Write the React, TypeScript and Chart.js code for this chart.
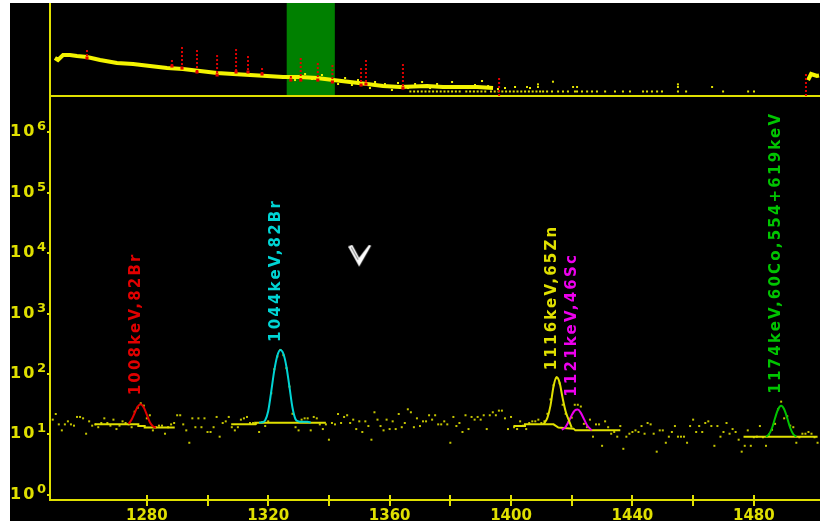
import React, { useEffect, useRef } from "react";
import { Chart, registerables } from "chart.js";

Chart.register(...registerables);

// ---------------- main (zoomed) spectrum ----------------
const xMin = 1248.1;
const xMax = 1501.8;
const yMin = 0.826;
const yMax = 3.8e6;
const xTickStep = 20;
const xLabelStep = 40;
const yDecades = [1, 10, 100, 1000, 10000, 100000, 1000000];
const yDecadeExponents = ["0", "1", "2", "3", "4", "5", "6"];

const countsFirstChannel = 1249;
const counts = [
  17.6, 21.8, 14.7, 11.7, 14.7, 16.5, 14.7, 14.0, 19.5, 19.5,
  18.5, 10.3, 16.5, 14.0, 14.7, 13.2, 15.5, 18.5, 15.5, 14.0,
  17.6, 12.3, 14.0, 16.5, 15.5, 14.7, 13.2, 23.8, 27.7, 32.8,
  30.0, 18.5, 20.8, 11.7, 13.2, 14.0, 14.0, 10.3, 13.2, 14.7,
  15.5, 20.8, 20.8, 14.7, 11.7, 7.3, 18.5, 13.2, 18.5, 13.2,
  18.5, 11.0, 11.0, 13.2, 19.5, 9.2, 15.5, 16.5, 19.5, 13.2,
  11.7, 13.2, 17.6, 18.5, 19.5, 15.5, 15.5, 15.0, 11.0, 16.0,
  13.8, 16.5, 48, 120, 195, 250, 205, 125, 62, 22,
  13.2, 11.7, 17.6, 18.5, 18.5, 11.7, 19.5, 18.5, 14.7, 12.3,
  14.7, 8.2, 15.5, 14.7, 21.8, 15.5, 19.5, 20.8, 15.5, 17.6,
  12.3, 16.5, 11.0, 16.5, 13.8, 8.2, 23.3, 17.6, 13.8, 11.7,
  17.6, 12.3, 16.5, 12.3, 21.8, 13.2, 15.5, 26.1, 23.3, 13.2,
  18.5, 13.8, 16.5, 16.5, 20.8, 17.6, 20.8, 14.7, 14.7, 16.5,
  14.7, 7.3, 19.5, 13.8, 15.5, 11.0, 20.8, 12.3, 19.5, 17.6,
  19.5, 17.6, 20.8, 12.3, 20.8, 23.3, 20.8, 24.8, 24.8, 18.5,
  12.3, 19.5, 13.2, 12.3, 16.5, 14.0, 12.3, 15.5, 16.5, 16.5,
  17.6, 15.5, 16.5, 22, 38, 65, 85, 70, 31, 22,
  16, 19, 31, 31, 29, 15, 13.2, 17.6, 9.2, 14.7,
  14.7, 6.5, 16.5, 13.2, 10.3, 11.0, 9.2, 13.8, 5.8, 9.2,
  10.3, 11.0, 11.7, 11.0, 13.8, 10.3, 15.5, 14.7, 10.3, 5.2,
  11.7, 11.7, 7.3, 9.2, 11.0, 13.8, 9.2, 9.2, 9.2, 7.3,
  13.8, 17.6, 11.0, 13.8, 11.0, 15.5, 16.5, 13.8, 6.5, 13.8,
  9.2, 11.0, 15.5, 10.3, 12.3, 11.0, 8.2, 5.2, 6.5, 11.7,
  6.5, 9.0, 9.2, 13.8, 9.0, 6.5, 10, 12, 15, 26.1,
  34.9, 18.5, 20, 14, 13.2, 7.3, 9.0, 10.3, 10.3, 11.0,
  10.3, 9.0, 7.3,
];

// background (baseline) lines under each fitted peak
const redBaseX = [1262.9, 1277.2, 1277.2, 1279.3, 1279.3, 1289.2];
const redBaseY = [14.7, 14.7, 13.8, 13.8, 13.0, 13.0];
const cyanBaseX = [1307.8, 1315.7, 1315.7, 1339.0];
const cyanBaseY = [14.7, 14.7, 15.7, 15.7];
const yellowBaseX = [1400.8, 1404.6, 1404.6, 1414.0, 1415.6, 1417.3, 1420.6, 1421.2, 1436.0];
const yellowBaseY = [13.8, 13.8, 14.7, 14.7, 13.0, 12.8, 12.5, 11.7, 11.7];
const greenBaseX = [1476.6, 1501.0];
const greenBaseY = [9.2, 9.2];

// fitted peak curves
const redFitX = [1274, 1275, 1276, 1277, 1278, 1279, 1280, 1281, 1282, 1283];
const redFitY = [14.9, 17.7, 22.7, 29.0, 31.7, 27.9, 21.3, 15.9, 13.7, 13.0];
const cyanFitX = [1317, 1318, 1319, 1320, 1321, 1322, 1323, 1324, 1325, 1326, 1327, 1328, 1329, 1330, 1331, 1332, 1333, 1334];
const cyanFitY = [15.7, 15.9, 17.2, 24.5, 51.7, 115, 201, 250, 216, 132, 61, 27.7, 17.9, 16.5, 16.2, 16.2, 16.2, 15.7];
const yellowFitX = [1410.7, 1411, 1412, 1413, 1414, 1415, 1416, 1417, 1418, 1419, 1420];
const yellowFitY = [14.7, 15.5, 19, 30, 62, 89, 72, 40, 24, 17.5, 13.0];
const magentaFitX = [1416.7, 1417, 1418, 1419, 1420, 1421, 1422, 1423, 1424, 1425, 1426, 1426.6];
const magentaFitY = [12.0, 12.2, 13.4, 16.4, 20.9, 25.0, 25.9, 22.8, 18.1, 14.4, 12.5, 11.7];
const greenFitX = [1484, 1485, 1486, 1487, 1488, 1489, 1490, 1491, 1492, 1493, 1494];
const greenFitY = [9.2, 10.1, 12.8, 18.7, 26.2, 29.9, 26.2, 18.7, 12.8, 10.1, 9.2];

const peakLabels = [
  "1008keV,82Br",
  "1044keV,82Br",
  "1116keV,65Zn",
  "1121keV,46Sc",
  "1174keV,60Co,554+619keV",
];
const peakLabelChannels = [1278, 1324.1, 1415.1, 1421.7, 1488.9];
const peakLabelAnchors = [32.8, 250, 85, 31, 34.9];

const cursorX = [1350.3];
const cursorY = [8900];

// ---------------- overview (full spectrum) ----------------
const ovMin = 0;
const ovMax = 4060;
const ovYMin = 0.5;
const ovYMax = 8e5;

const bandX = [26, 42, 69, 105, 142, 195, 264, 353, 438, 527, 617, 701, 791, 881, 965, 1055, 1144, 1229, 1318, 1408, 1492, 1582, 1672, 1756, 1846, 1988, 2072, 2252, 2336];
const bandY = [171, 126, 270, 270, 232, 199, 126, 79, 68, 50, 36.8, 31.5, 23.2, 17.1, 14.7, 12.6, 10.8, 9.2, 9.2, 7.9, 5.8, 4.3, 3.15, 2.3, 2.0, 2.3, 2.0, 2.0, 1.7];

const noiseX = [1292, 1345, 1382, 1434, 1519, 1556, 1592, 1624, 1687, 1714, 1766, 1803, 1835, 1888, 1925, 1962, 2004, 2041, 2083, 2120, 2162, 2204, 2241, 2278, 2310, 2362, 2399, 2452, 2531];
const noiseY = [5.8, 14.7, 6.8, 12.6, 3.15, 7.9, 2.7, 5.8, 1.7, 4.3, 3.15, 1.26, 3.7, 1.7, 3.15, 4.3, 1.7, 3.15, 2.3, 4.3, 2.3, 1.7, 2.7, 5.0, 2.3, 1.46, 1.7, 2.0, 1.7];

const singlesX = [1900, 1920, 1940, 1960, 1980, 2000, 2020, 2040, 2060, 2080, 2100, 2120, 2140, 2160, 2195, 2215, 2235, 2255, 2275, 2295, 2325, 2345, 2365, 2385, 2405, 2425, 2445, 2465, 2485, 2505, 2525, 2545, 2565, 2584, 2600, 2621, 2647, 2679, 2705, 2731, 2768, 2779, 2805, 2832, 2858, 2884, 2927, 2979, 3021, 3058, 3127, 3148, 3174, 3201, 3227, 3311, 3354, 3549, 3681, 3712];
const multiX = [2515, 2573, 2758, 2779, 3311, 3491, 2573, 3311, 2652];
const multiY = [2, 2, 2, 2, 2, 2, 3, 3, 4.5];
const tailX = [3997, 4013, 4029, 4044, 4055];
const tailY = [5.8, 14.7, 12.6, 10.8, 11.5];

const markerX = [195, 643, 696, 775, 881, 981, 1044, 1118, 1270, 1322, 1412, 1489, 1640, 1666, 1861, 2368, 3986];
const markerTop = [583, 126, 924, 583, 270, 680, 232, 36.8, 10.8, 171, 79, 58, 36.8, 126, 68, 7.9, 14.7];
const markerBottom = [171, 50, 36.8, 19.9, 12.6, 19.9, 19.9, 14.7, 5.8, 5.8, 5.8, 4.3, 2.7, 3.15, 1.7, 0.5, 0.5];

// ---------------- styles ----------------
const AXIS = "#e0e000";
const DOT = "#c4c400";
const BAND = "#f4f400";
const RED = "#e00000";
const CYAN = "#00d4d4";
const MAGENTA = "#ee00ee";
const GREEN = "#00c400";
const peakColors = [RED, CYAN, AXIS, MAGENTA, GREEN];

const pts = (xs: number[], ys: number[]) => xs.map((x, i) => ({ x, y: ys[i] }));

function makeCursor(): HTMLCanvasElement {
  const c = document.createElement("canvas");
  c.width = 24;
  c.height = 23;
  const g = c.getContext("2d")!;
  g.fillStyle = "#ffffff";
  g.beginPath();
  g.moveTo(0, 2);
  g.lineTo(4, 0);
  g.lineTo(11, 13);
  g.lineTo(21, 0);
  g.lineTo(23, 1);
  g.lineTo(11, 22);
  g.closePath();
  g.fill();
  g.strokeStyle = "#8a8a8a";
  g.lineWidth = 1.2;
  g.beginPath();
  g.moveTo(3, 2.5);
  g.lineTo(10, 15);
  g.stroke();
  return c;
}

const zeroPad = (s: any) => {
  s.paddingLeft = 0;
  s.paddingRight = 0;
  s.paddingTop = 0;
  s.paddingBottom = 0;
};

export default function App() {
  const topRef = useRef<HTMLCanvasElement | null>(null);
  const mainRef = useRef<HTMLCanvasElement | null>(null);

  useEffect(() => {
    document.body.style.margin = "0";
    document.body.style.background = "#ffffff";

    const mainDecor = {
      id: "mainDecor",
      afterDraw(chart: any) {
        const { ctx, chartArea } = chart;
        const xs = chart.scales.x;
        const ys = chart.scales.y;
        ctx.save();
        // crossing x tick marks
        ctx.strokeStyle = AXIS;
        ctx.lineWidth = 2;
        xs.ticks.forEach((t: any) => {
          const px = Math.round(xs.getPixelForValue(t.value));
          ctx.beginPath();
          ctx.moveTo(px, chartArea.bottom - 5);
          ctx.lineTo(px, chartArea.bottom + 6);
          ctx.stroke();
        });
        // y decade labels 10^n
        ctx.fillStyle = AXIS;
        ctx.textAlign = "left";
        ctx.textBaseline = "alphabetic";
        yDecades.forEach((v, i) => {
          const py = ys.getPixelForValue(v);
          ctx.font = 'bold 16px "DejaVu Sans"';
          (ctx as any).letterSpacing = "2px";
          ctx.fillText("10", 0, py + 4);
          ctx.font = 'bold 13px "DejaVu Sans"';
          (ctx as any).letterSpacing = "0px";
          ctx.fillText(yDecadeExponents[i], 27, py - 2);
        });
        // rotated peak labels
        peakLabels.forEach((txt, i) => {
          const px = xs.getPixelForValue(peakLabelChannels[i]) - 1;
          const py = ys.getPixelForValue(peakLabelAnchors[i]) - 8;
          ctx.save();
          ctx.translate(px, py);
          ctx.rotate(-Math.PI / 2);
          ctx.font = 'bold 15px "DejaVu Sans"';
          (ctx as any).letterSpacing = "2.2px";
          ctx.fillStyle = peakColors[i];
          ctx.textAlign = "left";
          ctx.textBaseline = "alphabetic";
          ctx.fillText(txt, 0, 0);
          ctx.restore();
        });
        ctx.restore();
      },
    };

    const lineDs = (xs: number[], ys: number[], color: string, smooth: boolean) => ({
      type: "line" as const,
      data: pts(xs, ys),
      borderColor: color,
      borderWidth: 2,
      pointRadius: 0,
      showLine: true,
      fill: false,
      tension: smooth ? 0.35 : 0,
      cubicInterpolationMode: smooth ? ("monotone" as const) : ("default" as const),
    });

    const main = new Chart(mainRef.current!, {
      type: "scatter",
      data: {
        datasets: [
          {
            type: "scatter",
            data: pts(cursorX, cursorY),
            pointStyle: makeCursor(),
            pointRadius: 12,
          } as any,
          lineDs(redFitX, redFitY, RED, true),
          lineDs(cyanFitX, cyanFitY, CYAN, true),
          lineDs(yellowFitX, yellowFitY, AXIS, true),
          lineDs(magentaFitX, magentaFitY, MAGENTA, true),
          lineDs(greenFitX, greenFitY, GREEN, true),
          lineDs(redBaseX, redBaseY, AXIS, false),
          lineDs(cyanBaseX, cyanBaseY, AXIS, false),
          lineDs(yellowBaseX, yellowBaseY, AXIS, false),
          lineDs(greenBaseX, greenBaseY, AXIS, false),
          {
            type: "scatter",
            data: counts.map((c, i) => ({ x: countsFirstChannel + i, y: c })),
            pointStyle: "rect",
            pointRadius: 1.42,
            borderWidth: 0,
            backgroundColor: DOT,
          } as any,
        ],
      },
      options: {
        animation: false,
        responsive: false,
        maintainAspectRatio: false,
        layout: { padding: 0, autoPadding: false },
        plugins: { legend: { display: false }, tooltip: { enabled: false } },
        scales: {
          x: {
            type: "linear",
            min: xMin,
            max: xMax,
            afterFit: (s: any) => {
              s.height = 21;
              zeroPad(s);
            },
            afterBuildTicks: (s: any) => {
              s.ticks = s.ticks.filter((t: any) => Math.abs(t.value % xTickStep) < 1e-6);
            },
            ticks: {
              stepSize: xTickStep,
              autoSkip: false,
              maxRotation: 0,
              padding: 7,
              color: AXIS,
              font: { family: "DejaVu Sans", size: 15, weight: "bold" },
              callback: (v: any) => (Number(v) % xLabelStep === 0 ? String(v) : ""),
            },
            grid: { display: false, drawTicks: false },
            border: { display: true, color: AXIS, width: 2 },
          },
          y: {
            type: "logarithmic",
            min: yMin,
            max: yMax,
            afterFit: (s: any) => {
              s.width = 40;
              zeroPad(s);
            },
            afterBuildTicks: (s: any) => {
              s.ticks = yDecades.map((value) => ({ value }));
            },
            ticks: { display: false },
            grid: {
              display: true,
              drawOnChartArea: false,
              drawTicks: true,
              tickLength: 3,
              color: AXIS,
              lineWidth: 2,
            },
            border: { display: true, color: AXIS, width: 2 },
          },
        },
      } as any,
      plugins: [mainDecor],
    });

    const ovDecor = {
      id: "ovDecor",
      beforeDatasetsDraw(chart: any) {
        const { ctx, chartArea } = chart;
        const xs = chart.scales.x;
        const a = xs.getPixelForValue(xMin);
        const b = xs.getPixelForValue(xMax);
        ctx.save();
        ctx.fillStyle = "#008000";
        ctx.fillRect(a, chartArea.top, b - a, chartArea.bottom - chartArea.top - 1);
        ctx.restore();
      },
    };

    const markerSets = markerX.map((mx, i) => ({
      type: "line" as const,
      data: [
        { x: mx, y: markerTop[i] },
        { x: mx, y: markerBottom[i] },
      ],
      borderColor: RED,
      borderWidth: 2,
      borderDash: [2, 2],
      pointRadius: 0,
      showLine: true,
    }));

    const top = new Chart(topRef.current!, {
      type: "scatter",
      data: {
        datasets: [
          ...markerSets,
          {
            type: "scatter",
            data: pts(markerX.slice(0, 15), markerBottom.slice(0, 15)),
            pointStyle: "rect",
            pointRadius: 2.2,
            borderWidth: 0,
            backgroundColor: RED,
          } as any,
          {
            type: "line",
            data: pts(bandX, bandY),
            borderColor: BAND,
            borderWidth: 4,
            pointRadius: 0,
            tension: 0,
            showLine: true,
          } as any,
          {
            type: "scatter",
            data: pts(noiseX, noiseY),
            pointStyle: "rect",
            pointRadius: 1.42,
            borderWidth: 0,
            backgroundColor: BAND,
          } as any,
          {
            type: "scatter",
            data: singlesX.map((x) => ({ x, y: 1 })),
            pointStyle: "rect",
            pointRadius: 1.42,
            borderWidth: 0,
            backgroundColor: AXIS,
          } as any,
          {
            type: "scatter",
            data: pts(multiX, multiY),
            pointStyle: "rect",
            pointRadius: 1.42,
            borderWidth: 0,
            backgroundColor: AXIS,
          } as any,
          {
            type: "line",
            data: pts(tailX, tailY),
            borderColor: BAND,
            borderWidth: 4,
            pointRadius: 0,
            showLine: true,
          } as any,
        ],
      },
      options: {
        animation: false,
        responsive: false,
        maintainAspectRatio: false,
        layout: { padding: 0, autoPadding: false },
        plugins: { legend: { display: false }, tooltip: { enabled: false } },
        scales: {
          x: {
            type: "linear",
            min: ovMin,
            max: ovMax,
            afterFit: (s: any) => {
              s.height = 1;
              zeroPad(s);
            },
            ticks: { display: false },
            grid: { display: false, drawTicks: false },
            border: { display: true, color: AXIS, width: 2 },
          },
          y: {
            type: "logarithmic",
            min: ovYMin,
            max: ovYMax,
            afterFit: (s: any) => {
              s.width = 40;
              zeroPad(s);
            },
            ticks: { display: false },
            grid: { display: false, drawTicks: false },
            border: { display: true, color: AXIS, width: 2 },
          },
        },
      } as any,
      plugins: [ovDecor],
    });

    return () => {
      main.destroy();
      top.destroy();
    };
  }, []);

  return (
    <div
      style={{
        position: "absolute",
        left: 10,
        top: 3,
        width: 810,
        height: 518,
        background: "#000000",
        overflow: "hidden",
      }}
    >
      <canvas
        ref={topRef}
        width={810}
        height={94}
        style={{ position: "absolute", left: 0, top: 0, width: 810, height: 94 }}
      />
      <canvas
        ref={mainRef}
        width={810}
        height={424}
        style={{ position: "absolute", left: 0, top: 94, width: 810, height: 424 }}
      />
    </div>
  );
}
